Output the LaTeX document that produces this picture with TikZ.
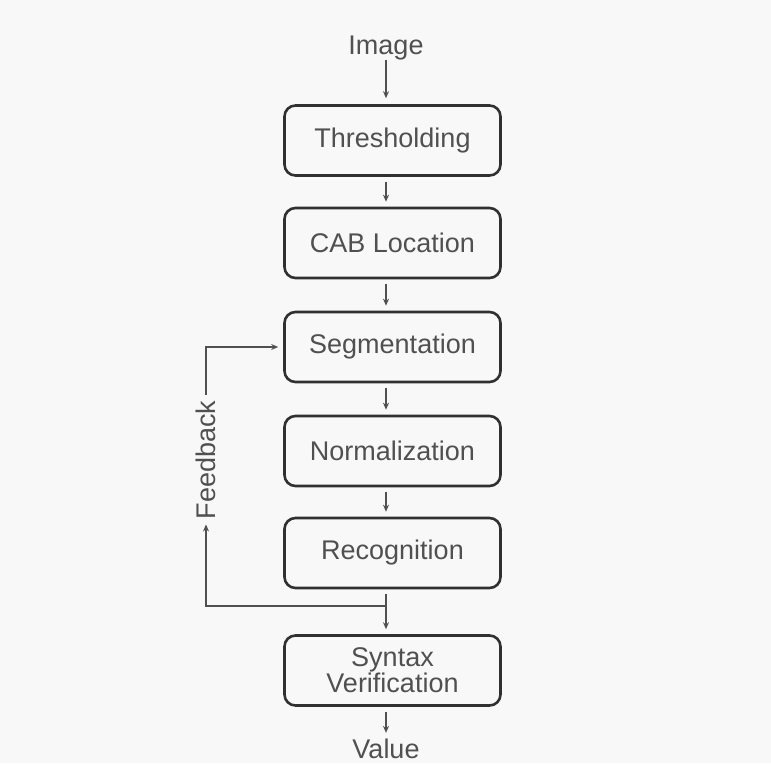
\documentclass[tikz,border=0pt]{standalone}
\usepackage{fontspec}
\setmainfont{Liberation Sans}
\usetikzlibrary{arrows.meta}
\definecolor{bg}{HTML}{F8F8F8}
\definecolor{ink}{HTML}{505050}
\definecolor{frame}{HTML}{303030}
\begin{document}
\begin{tikzpicture}[x=1pt,y=-1pt,
  stage/.style={draw=frame,line width=2.6pt,rounded corners=11pt,
    minimum width=216pt,minimum height=70pt,align=center,
    text=ink,font=\fontsize{27}{25}\selectfont},
  label/.style={text=ink,font=\fontsize{27}{25}\selectfont,inner sep=0pt},
  flow/.style={draw=ink,line width=1.3pt,
    -{Stealth[length=7pt,width=6pt]}},
]
\fill[bg] (0,0) rectangle (771,763);
\useasboundingbox (0,0) rectangle (771,763);

\coordinate (spine) at (386,0);

\node[label] (img) at (386,48) {Image};
\node[stage] (thr) at (392.5,140.5) {Thresholding};
\node[stage] (cab) at (392.5,243) {CAB Location};
\node[stage] (seg) at (392.5,347) {Segmentation};
\node[stage] (nor) at (392.5,451) {Normalization};
\node[stage] (rec) at (392.5,553) {Recognition};
\node[stage] (syn) at (392.5,670.5) {Syntax\\Verification};
\node[label] (val) at (386,749) {Value};
\node[label,rotate=90] (fb) at (206,460) {Feedback};

\coordinate (jn) at (386,606);

\draw[flow,shorten >=6pt] (img.south) -- (thr.north -| spine);
\draw[flow,shorten <=5pt,shorten >=5pt] (thr.south -| spine) -- (cab.north -| spine);
\draw[flow,shorten <=5pt,shorten >=5pt] (cab.south -| spine) -- (seg.north -| spine);
\draw[flow,shorten <=5pt,shorten >=5pt] (seg.south -| spine) -- (nor.north -| spine);
\draw[flow,shorten <=5pt,shorten >=5pt] (nor.south -| spine) -- (rec.north -| spine);
\draw[flow,shorten <=5pt,shorten >=5pt] (rec.south -| spine) -- (syn.north -| spine);
\draw[flow,shorten <=5pt,shorten >=6pt] (syn.south -| spine) -- (val.north);

% feedback loop from the junction below Recognition back to Segmentation
\draw[flow,shorten >=5pt] (jn) -| (fb.west);
\draw[flow,shorten <=6pt,shorten >=5pt] (fb.east) |- (seg.west);
\end{tikzpicture}
\end{document}
